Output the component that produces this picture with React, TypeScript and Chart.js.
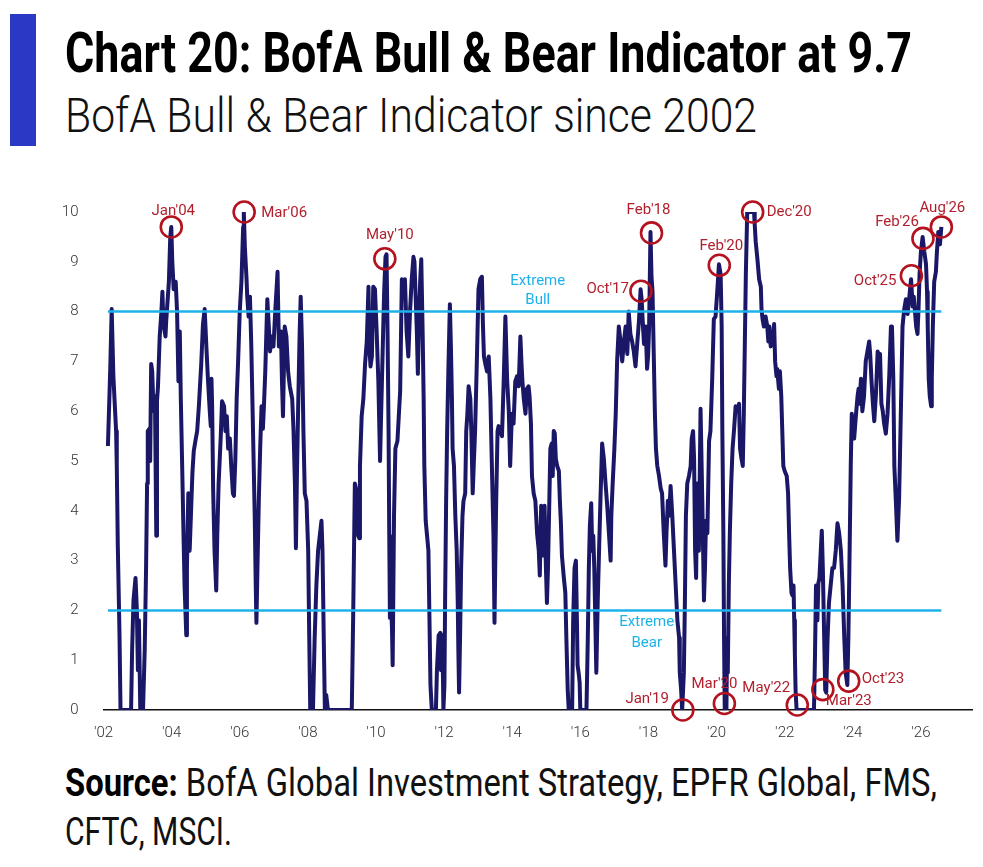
import React, { useEffect, useLayoutEffect, useRef } from "react";
import { Chart, registerables } from "chart.js";

Chart.register(...registerables);

// ---------- DATA (decimal year, indicator value) ----------
const era2002to2004: [number, number][] = [
  [2002.13, 5.3], [2002.2, 6.9], [2002.24, 8.05], [2002.29, 6.7], [2002.37, 5.6], [2002.39, 4.9],
  [2002.42, 3.3], [2002.47, 1.5], [2002.5, 0], [2002.81, 0], [2002.84, 1.2], [2002.88, 2.2],
  [2002.94, 2.65], [2002.98, 2.0], [2003.01, 0.8], [2003.04, 1.8], [2003.08, 0], [2003.11, 0.3],
  [2003.16, 0], [2003.21, 1.2], [2003.25, 2.85], [2003.28, 4.55], [2003.3, 5.6], [2003.35, 5.65],
  [2003.37, 5.0], [2003.4, 6.95], [2003.43, 6.8], [2003.47, 6.0], [2003.51, 6.3], [2003.55, 3.5],
  [2003.57, 6.2], [2003.6, 6.5], [2003.65, 7.5], [2003.7, 8.0], [2003.73, 8.4], [2003.76, 7.75],
  [2003.82, 7.5], [2003.84, 7.8], [2003.89, 8.3], [2003.92, 8.6], [2003.96, 9.5], [2003.99, 9.7],
  [2004.02, 9.0], [2004.06, 8.45], [2004.12, 8.6], [2004.16, 8.0], [2004.2, 6.6], [2004.24, 7.6],
  [2004.27, 6.25], [2004.31, 4.9], [2004.35, 3.5], [2004.38, 2.5], [2004.43, 1.5], [2004.45, 2.85],
  [2004.49, 4.35], [2004.53, 3.2], [2004.61, 4.75], [2004.65, 5.2], [2004.71, 5.45], [2004.75, 5.6],
  [2004.8, 6.1], [2004.87, 6.95], [2004.92, 7.75], [2004.97, 8.05],
];

const era2005to2008: [number, number][] = [
  [2005.02, 7.3], [2005.07, 6.6], [2005.12, 6.0], [2005.15, 5.7], [2005.17, 6.65], [2005.19, 6.1],
  [2005.22, 4.4], [2005.26, 3.2], [2005.31, 2.4], [2005.34, 3.5], [2005.38, 4.55], [2005.44, 5.45],
  [2005.48, 6.2], [2005.54, 6.1], [2005.58, 5.6], [2005.62, 5.9], [2005.66, 5.25], [2005.71, 5.45],
  [2005.75, 4.9], [2005.8, 4.35], [2005.83, 4.3], [2005.87, 5.0], [2005.91, 6.25], [2005.95, 6.95],
  [2006.0, 8.0], [2006.05, 8.6], [2006.1, 9.7], [2006.12, 10.0], [2006.15, 9.3], [2006.2, 8.65],
  [2006.22, 8.3], [2006.26, 7.9], [2006.3, 8.3], [2006.34, 7.3], [2006.39, 5.6], [2006.44, 3.9],
  [2006.47, 2.5], [2006.49, 1.75], [2006.52, 2.85], [2006.56, 4.2], [2006.6, 5.25], [2006.64, 6.1],
  [2006.68, 5.65], [2006.71, 6.1], [2006.75, 6.8], [2006.81, 8.25], [2006.85, 7.75], [2006.89, 7.2],
  [2006.93, 7.5], [2006.99, 7.3], [2007.05, 8.1], [2007.11, 8.8], [2007.15, 7.3], [2007.21, 7.6],
  [2007.24, 6.6], [2007.27, 5.9], [2007.32, 7.7], [2007.37, 7.5], [2007.42, 6.8], [2007.47, 6.5],
  [2007.54, 6.25], [2007.58, 5.6], [2007.62, 4.55], [2007.65, 3.25], [2007.68, 4.75], [2007.72, 6.25],
  [2007.76, 7.6], [2007.79, 8.3], [2007.83, 7.3], [2007.87, 5.6], [2007.91, 4.35], [2007.96, 4.2],
  [2008.01, 3.2], [2008.04, 1.5], [2008.07, 0], [2008.15, 0], [2008.2, 1.45], [2008.25, 2.5],
  [2008.3, 3.2], [2008.35, 3.5], [2008.4, 3.8], [2008.43, 3.2], [2008.47, 1.3], [2008.5, 0],
  [2008.54, 0.3], [2008.59, 0],
];

const era2009to2011: [number, number][] = [
  [2009.29, 0], [2009.33, 1.85], [2009.38, 4.55], [2009.43, 4.4], [2009.48, 3.5], [2009.51, 3.45],
  [2009.53, 4.9], [2009.58, 5.9], [2009.63, 6.25], [2009.68, 6.95], [2009.73, 7.4], [2009.78, 8.5],
  [2009.8, 7.35], [2009.84, 6.9], [2009.88, 7.1], [2009.92, 8.5], [2009.97, 8.45], [2010.02, 7.6],
  [2010.07, 6.6], [2010.12, 5.0], [2010.15, 5.9], [2010.2, 7.3], [2010.24, 8.4], [2010.28, 9.1],
  [2010.31, 9.15], [2010.34, 7.6], [2010.37, 5.6], [2010.39, 3.5], [2010.41, 1.85], [2010.44, 2.2],
  [2010.47, 1.65], [2010.49, 0.9], [2010.53, 3.9], [2010.57, 5.25], [2010.63, 5.4], [2010.67, 5.9],
  [2010.71, 6.4], [2010.76, 8.65], [2010.81, 8.3], [2010.85, 8.65], [2010.9, 7.6], [2010.95, 7.1],
  [2011.0, 8.0], [2011.05, 8.65], [2011.1, 9.1], [2011.13, 9.0], [2011.2, 7.6], [2011.23, 6.75],
  [2011.27, 8.0], [2011.3, 8.65], [2011.33, 9.05], [2011.37, 7.6], [2011.4, 6.25], [2011.42, 4.9],
  [2011.46, 3.8], [2011.5, 3.5], [2011.54, 3.2], [2011.57, 1.85], [2011.6, 0.5], [2011.64, 0],
  [2011.76, 0], [2011.79, 0.8], [2011.84, 1.5], [2011.89, 1.55], [2011.91, 0.8], [2011.95, 1.5],
  [2011.98, 0],
];

const era2012to2014: [number, number][] = [
  [2012.01, 0.5], [2012.03, 2.2], [2012.06, 4.2], [2012.09, 5.6], [2012.13, 6.95], [2012.17, 8.15],
  [2012.2, 7.3], [2012.23, 6.25], [2012.25, 5.25], [2012.29, 4.9], [2012.33, 3.9], [2012.37, 3.2],
  [2012.4, 2.2], [2012.42, 1.15], [2012.44, 0.35], [2012.47, 1.5], [2012.5, 2.85], [2012.54, 3.9],
  [2012.57, 4.2], [2012.62, 4.35], [2012.65, 5.6], [2012.68, 5.9], [2012.72, 6.5], [2012.77, 6.25],
  [2012.8, 5.6], [2012.84, 4.35], [2012.87, 4.9], [2012.91, 5.6], [2012.96, 6.95], [2013.01, 8.45],
  [2013.06, 8.65], [2013.11, 8.7], [2013.14, 7.75], [2013.17, 7.1], [2013.21, 6.95], [2013.26, 6.8],
  [2013.31, 7.1], [2013.36, 6.25], [2013.4, 5.0], [2013.45, 3.5], [2013.48, 1.75], [2013.5, 2.8],
  [2013.53, 4.2], [2013.57, 5.6], [2013.6, 5.7], [2013.65, 5.6], [2013.7, 5.5], [2013.75, 6.6],
  [2013.8, 7.9], [2013.85, 6.65], [2013.9, 6.0], [2013.94, 4.9], [2013.99, 5.95], [2014.04, 5.75],
  [2014.09, 6.6], [2014.14, 6.7], [2014.19, 6.5], [2014.24, 7.5], [2014.27, 7.0], [2014.3, 6.6],
  [2014.34, 6.25], [2014.39, 5.95], [2014.43, 6.45], [2014.48, 6.5], [2014.51, 6.3], [2014.55, 5.75],
  [2014.58, 4.7], [2014.63, 4.35], [2014.68, 4.2], [2014.73, 3.55], [2014.78, 3.2], [2014.81, 2.7],
  [2014.85, 4.1], [2014.89, 3.55], [2014.92, 3.1], [2014.95, 4.1], [2014.99, 2.85],
];

const era2015to2017: [number, number][] = [
  [2015.02, 2.15], [2015.05, 2.85], [2015.09, 4.2], [2015.12, 5.25], [2015.16, 5.35], [2015.19, 4.7],
  [2015.22, 5.6], [2015.25, 5.55], [2015.28, 5.05], [2015.32, 4.9], [2015.37, 4.8], [2015.4, 4.2],
  [2015.43, 3.75], [2015.46, 3.1], [2015.51, 2.7], [2015.56, 2.35], [2015.59, 1.45], [2015.63, 0.4],
  [2015.66, 0], [2015.76, 0], [2015.79, 1.8], [2015.83, 2.85], [2015.87, 3.0], [2015.9, 1.8],
  [2015.92, 0.9], [2015.95, 0.75], [2015.98, 0.55], [2016.0, 0], [2016.18, 0], [2016.22, 1.45],
  [2016.25, 2.85], [2016.28, 3.7], [2016.32, 4.15], [2016.35, 3.2], [2016.38, 3.5], [2016.41, 2.85],
  [2016.44, 1.8], [2016.47, 0.75], [2016.51, 2.15], [2016.55, 3.2], [2016.59, 4.2], [2016.64, 5.35],
  [2016.69, 5.05], [2016.74, 4.55], [2016.79, 4.1], [2016.84, 3.55], [2016.89, 3.0], [2016.91, 3.9],
  [2016.95, 4.55], [2017.0, 5.25], [2017.04, 5.95], [2017.08, 7.0], [2017.13, 7.7], [2017.18, 7.4],
  [2017.23, 7.0], [2017.28, 7.4], [2017.33, 7.7], [2017.38, 7.15], [2017.42, 8.0], [2017.47, 7.55],
  [2017.52, 7.4], [2017.57, 7.2], [2017.62, 6.9], [2017.67, 7.35], [2017.72, 7.8], [2017.77, 8.45],
  [2017.8, 8.25], [2017.84, 7.7], [2017.87, 7.35], [2017.92, 7.7], [2017.96, 6.85], [2017.99, 7.1],
];

const era2018to2020: [number, number][] = [
  [2018.02, 7.7], [2018.06, 9.6], [2018.09, 8.7], [2018.12, 8.4], [2018.16, 7.0], [2018.19, 5.95],
  [2018.22, 5.25], [2018.26, 4.9], [2018.31, 4.7], [2018.36, 4.45], [2018.4, 4.35], [2018.45, 3.55],
  [2018.5, 2.9], [2018.53, 3.55], [2018.57, 4.2], [2018.61, 3.9], [2018.65, 4.5], [2018.7, 3.9],
  [2018.75, 3.2], [2018.8, 2.5], [2018.85, 1.8], [2018.9, 1.45], [2018.92, 0.75], [2018.96, 0.4],
  [2018.99, 0], [2019.04, 0.75], [2019.07, 2.15], [2019.1, 3.9], [2019.14, 4.55], [2019.19, 4.7],
  [2019.24, 4.9], [2019.27, 5.45], [2019.31, 5.6], [2019.34, 5.05], [2019.37, 3.2], [2019.4, 2.65],
  [2019.43, 4.55], [2019.48, 3.2], [2019.53, 6.05], [2019.58, 4.25], [2019.63, 2.2], [2019.66, 2.85],
  [2019.69, 3.8], [2019.73, 3.55], [2019.78, 5.4], [2019.82, 5.6], [2019.87, 6.6], [2019.92, 7.85],
  [2019.97, 7.9], [2020.02, 8.4], [2020.07, 8.95], [2020.12, 8.75], [2020.15, 7.7], [2020.17, 5.6],
  [2020.2, 3.55], [2020.22, 1.45], [2020.24, 0], [2020.29, 0], [2020.31, 1.45], [2020.33, 0.75],
  [2020.36, 2.5], [2020.39, 3.55], [2020.43, 4.55], [2020.47, 5.25], [2020.51, 5.6], [2020.56, 6.1],
  [2020.61, 6.0], [2020.66, 6.15], [2020.69, 5.25], [2020.73, 5.05], [2020.77, 4.9], [2020.8, 5.95],
  [2020.83, 7.35], [2020.86, 8.75], [2020.9, 10.0],
];

const era2021to2023: [number, number][] = [
  [2021.1, 10.0], [2021.12, 9.75], [2021.15, 9.4], [2021.2, 9.05], [2021.25, 8.65], [2021.3, 8.5],
  [2021.32, 8.05], [2021.35, 7.85], [2021.39, 7.7], [2021.44, 7.9], [2021.49, 7.7], [2021.52, 7.4],
  [2021.55, 7.7], [2021.59, 7.3], [2021.64, 7.35], [2021.69, 7.75], [2021.72, 7.0], [2021.76, 6.7],
  [2021.78, 6.85], [2021.83, 6.45], [2021.86, 6.8], [2021.9, 6.3], [2021.93, 5.6], [2021.96, 4.9],
  [2022.0, 4.8], [2022.06, 4.7], [2022.1, 4.35], [2022.13, 3.55], [2022.16, 2.85], [2022.2, 2.35],
  [2022.23, 2.3], [2022.26, 2.5], [2022.28, 1.8], [2022.3, 1.1], [2022.32, 0.4], [2022.35, 0],
  [2022.86, 0], [2022.89, 1.1], [2022.92, 2.5], [2022.96, 1.8], [2022.99, 2.55], [2023.02, 2.65],
  [2023.06, 3.2], [2023.09, 3.6], [2023.12, 2.85], [2023.16, 1.45], [2023.19, 0.4], [2023.22, 0.35],
  [2023.26, 1.45], [2023.3, 2.15], [2023.35, 2.5], [2023.4, 2.85], [2023.45, 2.85], [2023.5, 3.2],
  [2023.55, 3.75], [2023.6, 3.55], [2023.65, 3.2], [2023.7, 2.5], [2023.75, 1.45], [2023.79, 0.75],
  [2023.84, 0.5], [2023.87, 1.45], [2023.9, 2.85], [2023.94, 4.9], [2023.97, 5.95],
];

const era2024to2026: [number, number][] = [
  [2024.0, 5.6], [2024.04, 5.45], [2024.09, 5.9], [2024.14, 6.3], [2024.17, 6.45], [2024.2, 6.15],
  [2024.24, 6.65], [2024.28, 6.0], [2024.33, 6.3], [2024.38, 7.0], [2024.43, 7.2], [2024.48, 7.4],
  [2024.51, 7.15], [2024.55, 6.6], [2024.59, 6.15], [2024.63, 5.8], [2024.68, 6.35], [2024.73, 7.2],
  [2024.78, 7.0], [2024.8, 7.15], [2024.84, 6.15], [2024.88, 6.0], [2024.92, 5.75], [2024.97, 5.55],
  [2025.02, 5.95], [2025.07, 6.7], [2025.12, 7.7], [2025.15, 7.7], [2025.19, 6.65], [2025.22, 4.9],
  [2025.27, 4.1], [2025.31, 3.4], [2025.36, 4.25], [2025.41, 5.95], [2025.46, 7.7], [2025.51, 8.05],
  [2025.56, 8.25], [2025.61, 7.95], [2025.66, 8.3], [2025.71, 8.65], [2025.76, 8.1], [2025.79, 8.3],
  [2025.82, 8.05], [2025.86, 7.7], [2025.9, 7.55], [2025.93, 8.05], [2025.96, 8.75], [2026.0, 9.2],
  [2026.05, 9.5], [2026.1, 9.2], [2026.15, 8.95], [2026.18, 8.4], [2026.2, 7.7], [2026.23, 6.65],
  [2026.26, 6.3], [2026.3, 6.1], [2026.32, 6.65], [2026.35, 7.7], [2026.39, 8.6], [2026.44, 8.8],
  [2026.47, 9.2], [2026.51, 9.6], [2026.54, 9.55], [2026.56, 9.35], [2026.6, 9.7],
];

const xTickYears = [2002, 2004, 2006, 2008, 2010, 2012, 2014, 2016, 2018, 2020, 2022, 2024, 2026];
const xTickLabels = ["'02", "'04", "'06", "'08", "'10", "'12", "'14", "'16", "'18", "'20", "'22", "'24", "'26"];
const yTickValues = [0, 1, 2, 3, 4, 5, 6, 7, 8, 9, 10];

const extremeBull = 8;
const extremeBear = 2;
const zoneNames = [["Extreme", "Bull"], ["Extreme", "Bear"]];
const zoneLabelYears = [2014.75, 2017.95];

const calloutNames = ["Jan'04", "Mar'06", "May'10", "Oct'17", "Feb'18", "Feb'20", "Dec'20", "Jan'19",
  "Mar'20", "May'22", "Mar'23", "Oct'23", "Oct'25", "Feb'26", "Aug'26"];
const calloutYears = [2003.99, 2006.13, 2010.26, 2017.78, 2018.09, 2020.08, 2021.06, 2019.01,
  2020.23, 2022.37, 2023.12, 2023.88, 2025.72, 2026.06, 2026.6];
const calloutValues = [9.7, 10.0, 9.06, 8.41, 9.58, 8.93, 10.0, 0.0,
  0.13, 0.1, 0.41, 0.58, 8.72, 9.47, 9.7];

// ---------- LAYOUT / STYLE (not data) ----------
const calloutPlacement: [number, number, CanvasTextAlign][] = [
  [2, -16, "center"], [17, 1, "left"], [5, -24, "center"], [-12, -2, "right"], [-3, -23, "center"],
  [2, -19, "center"], [14, 0, "left"], [-14, -11, "right"], [-10, -19, "center"], [-31, -17, "center"],
  [3, 12, "left"], [13, -2, "left"], [-15, 6, "right"], [-4, -16, "right"], [1, -19, "center"],
];

const FONT = 'Roboto, "Noto Sans", "DejaVu Sans", sans-serif';
const NAVY = "#1a1766";
const CYAN = "#1eb2ea";
const RED = "#b3121e";
const RED_TEXT = "#b11f2c";
const TICK = "#333333";

const readings = [
  ...era2002to2004, ...era2005to2008, ...era2009to2011, ...era2012to2014,
  ...era2015to2017, ...era2018to2020, ...era2021to2023, ...era2024to2026,
];

const annotationPlugin = {
  id: "bbAnnotations",
  afterDatasetsDraw(chart: any) {
    const { ctx } = chart;
    const xs = chart.scales.x;
    const ys = chart.scales.y;
    ctx.save();
    ctx.font = `15px ${FONT}`;
    ctx.textBaseline = "middle";
    ctx.textAlign = "center";
    ctx.fillStyle = CYAN;
    const bx = xs.getPixelForValue(zoneLabelYears[0]);
    const by = ys.getPixelForValue(extremeBull);
    ctx.fillText(zoneNames[0][0], bx, by - 30);
    ctx.fillText(zoneNames[0][1], bx, by - 11);
    const ex = xs.getPixelForValue(zoneLabelYears[1]);
    const ey = ys.getPixelForValue(extremeBear);
    ctx.fillText(zoneNames[1][0], ex, ey + 12);
    ctx.fillText(zoneNames[1][1], ex, ey + 33);

    calloutNames.forEach((name, i) => {
      const cx = xs.getPixelForValue(calloutYears[i]);
      const cy = ys.getPixelForValue(calloutValues[i]);
      ctx.beginPath();
      ctx.arc(cx, cy, 10.5, 0, Math.PI * 2);
      ctx.strokeStyle = RED;
      ctx.lineWidth = 2.6;
      ctx.stroke();
      const [dx, dy, align] = calloutPlacement[i];
      ctx.textAlign = align;
      ctx.fillStyle = RED_TEXT;
      ctx.fillText(name, cx + dx, cy + dy);
    });
    ctx.restore();
  },
};

function FitLine(props: {
  left: number; top: number; width: number; fontSize: number; weight: number;
  color?: string; children: React.ReactNode;
}) {
  const ref = useRef<HTMLDivElement>(null);
  useLayoutEffect(() => {
    const el = ref.current;
    if (!el) return;
    el.style.transform = "none";
    const natural = el.getBoundingClientRect().width;
    if (natural > 0) el.style.transform = `scaleX(${props.width / natural})`;
  }, [props.width]);
  return (
    <div
      ref={ref}
      style={{
        position: "absolute",
        left: props.left,
        top: props.top,
        fontSize: props.fontSize,
        fontWeight: props.weight,
        fontFamily: FONT,
        lineHeight: 1,
        whiteSpace: "nowrap",
        transformOrigin: "0 0",
        color: props.color ?? "#000",
      }}
    >
      {props.children}
    </div>
  );
}

function BullBearChart() {
  const canvasRef = useRef<HTMLCanvasElement>(null);
  useEffect(() => {
    const canvas = canvasRef.current;
    if (!canvas) return;
    const first = readings[0][0];
    const last = readings[readings.length - 1][0];
    const chart = new Chart(canvas, {
      type: "line",
      data: {
        datasets: [
          {
            label: "Extreme Bull",
            data: [{ x: first, y: extremeBull }, { x: last, y: extremeBull }],
            borderColor: CYAN,
            borderWidth: 2.5,
            pointRadius: 0,
          },
          {
            label: "Extreme Bear",
            data: [{ x: first, y: extremeBear }, { x: last, y: extremeBear }],
            borderColor: CYAN,
            borderWidth: 2.5,
            pointRadius: 0,
          },
          {
            label: "BofA Bull & Bear Indicator",
            data: readings.map(([x, y]) => ({ x, y })),
            borderColor: NAVY,
            borderWidth: 4,
            pointRadius: 0,
            tension: 0,
            borderJoinStyle: "round",
          },
        ],
      } as any,
      options: {
        animation: false,
        responsive: true,
        maintainAspectRatio: false,
        layout: { padding: { top: 42, right: 11, left: 0, bottom: 0 } },
        plugins: { legend: { display: false }, tooltip: { enabled: false } },
        scales: {
          x: {
            type: "linear",
            min: 2002,
            max: 2027.5,
            grid: { display: false },
            border: { display: true, color: "#111111", width: 1.5 },
            afterBuildTicks: (s: any) => {
              s.ticks = xTickYears.map((v) => ({ value: v }));
            },
            afterFit: (s: any) => {
              s.height = 40;
            },
            ticks: {
              autoSkip: false,
              maxRotation: 0,
              padding: 6,
              color: TICK,
              font: { size: 15, family: FONT, weight: "300" },
              callback: (v: any) => xTickLabels[xTickYears.indexOf(Number(v))] ?? "",
            },
          },
          y: {
            min: 0,
            max: 10,
            grid: { display: false },
            border: { display: false },
            afterBuildTicks: (s: any) => {
              s.ticks = yTickValues.map((v) => ({ value: v }));
            },
            afterFit: (s: any) => {
              s.width = 103.5;
            },
            ticks: {
              padding: 17,
              color: TICK,
              font: { size: 15, family: FONT, weight: "300" },
              callback: (v: any) => String(v),
            },
          },
        },
      } as any,
      plugins: [annotationPlugin],
    });
    return () => chart.destroy();
  }, []);
  return (
    <div style={{ position: "absolute", left: 0, top: 170, width: 983, height: 580 }}>
      <canvas ref={canvasRef} />
    </div>
  );
}

export default function App() {
  return (
    <div style={{ position: "absolute", left: 0, top: 0, width: 983, height: 867, background: "#fff", overflow: "hidden" }}>
      <div style={{ position: "absolute", left: 10, top: 14, width: 26, height: 132, background: "#2b38c6" }} />
      <FitLine left={65} top={25.7} width={847} fontSize={55} weight={700}>
        Chart 20: BofA Bull &amp; Bear Indicator at 9.7
      </FitLine>
      <FitLine left={65} top={90.7} width={692} fontSize={49} weight={300} color="#111">
        BofA Bull &amp; Bear Indicator since 2002
      </FitLine>
      <BullBearChart />
      <FitLine left={65} top={764} width={872} fontSize={39} weight={400} color="#111">
        <b style={{ fontWeight: 700, color: "#000" }}>Source:</b> BofA Global Investment Strategy, EPFR Global, FMS,
      </FitLine>
      <FitLine left={65} top={813} width={167} fontSize={39} weight={400} color="#111">
        CFTC, MSCI.
      </FitLine>
    </div>
  );
}
